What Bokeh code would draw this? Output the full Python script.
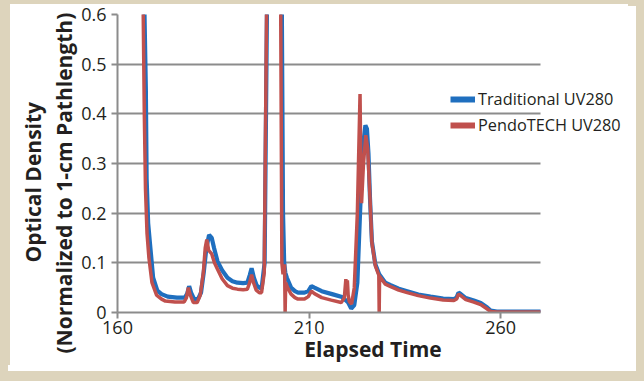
from bokeh.plotting import figure
from bokeh.models import Range1d, Title, Legend, LegendItem, FixedTicker
from bokeh.embed import file_html
from bokeh.resources import INLINE

# ---- data ----
trad_time = [165.0, 166.7, 167.4, 167.6, 168.0, 168.5, 169.3, 170.4, 171.5, 173.1,
             175.5, 177.6, 178.2, 178.7, 179.2, 180.0, 181.0, 181.8, 182.5, 183.2,
             183.9, 184.6, 185.2, 186.1, 187.3, 188.7, 190.0, 191.3, 192.8, 193.9,
             194.5, 195.0, 195.6, 196.3, 197.0, 197.6, 198.4, 199.0, 199.5, 200.5,
             202.0, 202.9, 203.2, 203.5, 203.8, 204.2, 205.3, 206.3, 207.1, 208.8,
             209.8, 210.6, 211.4, 213.3, 216.0, 218.6, 219.5, 220.2, 221.0, 221.8,
             222.6, 223.3, 224.0, 224.7, 225.1, 225.5, 225.9, 226.4, 227.3, 228.3,
             229.9, 231.3, 233.4, 235.6, 238.5, 241.7, 245.0, 247.8, 248.5, 249.0,
             249.6, 250.9, 253.0, 254.8, 256.5, 257.4, 259.0, 265.0, 270.4]
trad_od = [1.5, 0.75, 0.45, 0.27, 0.18, 0.137, 0.07, 0.044, 0.037, 0.032,
           0.03, 0.03, 0.038, 0.053, 0.04, 0.027, 0.027, 0.04, 0.08, 0.13,
           0.156, 0.15, 0.13, 0.103, 0.085, 0.07, 0.063, 0.06, 0.059, 0.06,
           0.075, 0.089, 0.07, 0.055, 0.05, 0.048, 0.1, 0.6, 1.6, 2.0,
           1.8, 0.6, 0.2, 0.1, 0.08, 0.07, 0.05, 0.043, 0.04, 0.04,
           0.043, 0.053, 0.05, 0.043, 0.037, 0.031, 0.025, 0.02, 0.008, 0.015,
           0.06, 0.2, 0.33, 0.377, 0.37, 0.32, 0.23, 0.143, 0.097, 0.077,
           0.06, 0.055, 0.048, 0.043, 0.036, 0.032, 0.028, 0.027, 0.03, 0.04,
           0.037, 0.029, 0.024, 0.019, 0.01, 0.004, 0.002, 0.002, 0.002]

pendo_time = [165.0, 166.5, 167.0, 167.3, 167.7, 168.2, 169.0, 170.2, 171.5, 172.5,
              175.0, 177.4, 178.0, 178.5, 179.0, 179.8, 180.8, 181.6, 182.4, 182.9,
              183.3, 183.8, 184.6, 185.3, 186.1, 187.3, 188.7, 190.0, 191.3, 192.8,
              193.9, 194.5, 195.0, 195.5, 196.2, 197.0, 197.6, 198.3, 198.9, 199.4,
              200.5, 202.0, 202.6, 202.9, 203.2, 203.6, 203.75, 203.9, 204.4, 205.3,
              206.3, 207.1, 208.8, 209.8, 210.6, 211.4, 213.3, 215.8, 218.4, 219.2,
              219.6, 219.8, 220.0, 220.2, 220.5, 221.1, 221.8, 222.6, 223.3, 223.5,
              223.7, 224.2, 224.8, 225.3, 225.9, 226.4, 227.3, 228.2, 228.3, 228.4,
              229.9, 231.3, 233.4, 235.6, 238.5, 241.7, 245.0, 247.8, 248.5, 249.0,
              249.6, 250.9, 253.0, 254.8, 256.5, 257.4, 259.0, 265.0, 270.4]
pendo_od = [1.5, 0.75, 0.4, 0.25, 0.16, 0.11, 0.06, 0.035, 0.027, 0.023,
            0.021, 0.021, 0.03, 0.05, 0.035, 0.02, 0.02, 0.035, 0.08, 0.13,
            0.147, 0.125, 0.118, 0.1, 0.087, 0.068, 0.054, 0.049, 0.047, 0.046,
            0.047, 0.06, 0.076, 0.06, 0.045, 0.04, 0.04, 0.08, 0.6, 1.6,
            2.0, 1.8, 0.6, 0.1, 0.077, 0.097, 0.0, 0.06, 0.05, 0.037,
            0.03, 0.027, 0.027, 0.032, 0.043, 0.038, 0.03, 0.025, 0.02, 0.03,
            0.067, 0.04, 0.065, 0.035, 0.022, 0.017, 0.05, 0.2, 0.44, 0.3,
            0.22, 0.3, 0.357, 0.33, 0.23, 0.14, 0.094, 0.075, 0.0, 0.073,
            0.057, 0.052, 0.045, 0.04, 0.034, 0.029, 0.025, 0.024, 0.027, 0.037,
            0.034, 0.026, 0.021, 0.016, 0.007, 0.002, 0.001, 0.001, 0.001]

x_start, x_end = 160, 270.4
x_ticks = [160, 210, 260]
y_ticks = [0, 0.1, 0.2, 0.3, 0.4, 0.5, 0.6]
y_tick_labels = {0: "0", 0.1: "0.1", 0.2: "0.2", 0.3: "0.3", 0.4: "0.4", 0.5: "0.5", 0.6: "0.6"}
series_names = ["Traditional UV280", "PendoTECH UV280"]

# ---- styling / layout ----
FONT = "Open Sans"
TXT = "#231f20"
GRID = "#8c8c8c"
BLUE = "#1f6fbf"
RED = "#c0504d"
BEIGE = "#ddd4bc"

DATA_W = 423          # pixels used by the data span x_start..x_end
FRAME_W = 511         # frame extends to the right so the legend is not clipped
view_end = x_start + (x_end - x_start) * FRAME_W / DATA_W

p = figure(width=628, height=365, output_backend="svg", toolbar_location=None,
           x_range=Range1d(x_start, view_end), y_range=Range1d(0, 0.6),
           min_border_left=117, min_border_right=0, min_border_top=14,
           min_border_bottom=51, background_fill_color="white",
           border_fill_color="white", border_fill_alpha=0, outline_line_color=None)
# beige frame around the white panel
p.styles = {"background-color": "white",
            "box-shadow": "inset 10px 4px 0 0 %s, 8px 6px 0 0 white, 0 0 0 24px %s" % (BEIGE, BEIGE)}

r_blue = p.line(trad_time, trad_od, line_color=BLUE, line_width=4.2)
r_red = p.line(pendo_time, pendo_od, line_color=RED, line_width=3.5)
# thicker swatches for the legend (no visible data)
nan = float("nan")
leg_blue = p.line([nan], [nan], line_color=BLUE, line_width=6)
leg_red = p.line([nan], [nan], line_color=RED, line_width=6)

# axes
p.xaxis.ticker = FixedTicker(ticks=x_ticks)
p.yaxis.ticker = FixedTicker(ticks=y_ticks)
p.yaxis.major_label_overrides = y_tick_labels
p.xaxis.bounds = (x_start, x_end)
for ax in (p.xaxis[0], p.yaxis[0]):
    ax.axis_line_color = GRID
    ax.axis_line_width = 2
    ax.major_tick_line_color = GRID
    ax.major_tick_line_width = 2
    ax.major_tick_out = 6
    ax.major_tick_in = 0
    ax.minor_tick_line_color = None
    ax.major_label_text_font = FONT
    ax.major_label_text_font_size = "18px"
    ax.major_label_text_color = TXT
p.yaxis.major_label_standoff = 5
p.xaxis.major_label_standoff = 2
p.xaxis.axis_label = "Elapsed Time"
p.xaxis.axis_label_text_font = FONT
p.xaxis.axis_label_text_font_size = "21px"
p.xaxis.axis_label_text_font_style = "bold"
p.xaxis.axis_label_text_color = TXT
p.xaxis.axis_label_standoff = -2

p.xgrid.grid_line_color = None
g = p.ygrid[0]
g.grid_line_color = GRID
g.grid_line_width = 2
if "cross_bounds" in g.properties():
    g.cross_bounds = (x_start, x_end)
else:
    g.grid_line_color = None
    p.segment(x0=[x_start] * len(y_ticks), x1=[x_end] * len(y_ticks),
              y0=y_ticks, y1=y_ticks, line_color=GRID, line_width=2, level="underlay")

# two-line y title (align "left" = anchored at frame bottom, offset moves it up)
t2 = Title(text="(Normalized to 1-cm Pathlength)", align="left", offset=-41,
           text_font=FONT, text_font_size="21px", text_font_style="bold",
           text_color=TXT, standoff=2)
t1 = Title(text="Optical Density", align="left", offset=50,
           text_font=FONT, text_font_size="21px", text_font_style="bold",
           text_color=TXT, standoff=0)
p.add_layout(t2, "left")
p.add_layout(t1, "left")

legend = Legend(items=[LegendItem(label=series_names[0], renderers=[leg_blue]),
                       LegendItem(label=series_names[1], renderers=[leg_red])],
                location=(333, 176), orientation="vertical",
                background_fill_alpha=0, border_line_color=None,
                padding=0, margin=0, spacing=4, glyph_width=25, glyph_height=18,
                label_standoff=3, label_text_font=FONT, label_text_font_size="16.3px",
                label_text_color=TXT)
p.add_layout(legend, "center")

open("out.html", "w").write(file_html(p, INLINE))
